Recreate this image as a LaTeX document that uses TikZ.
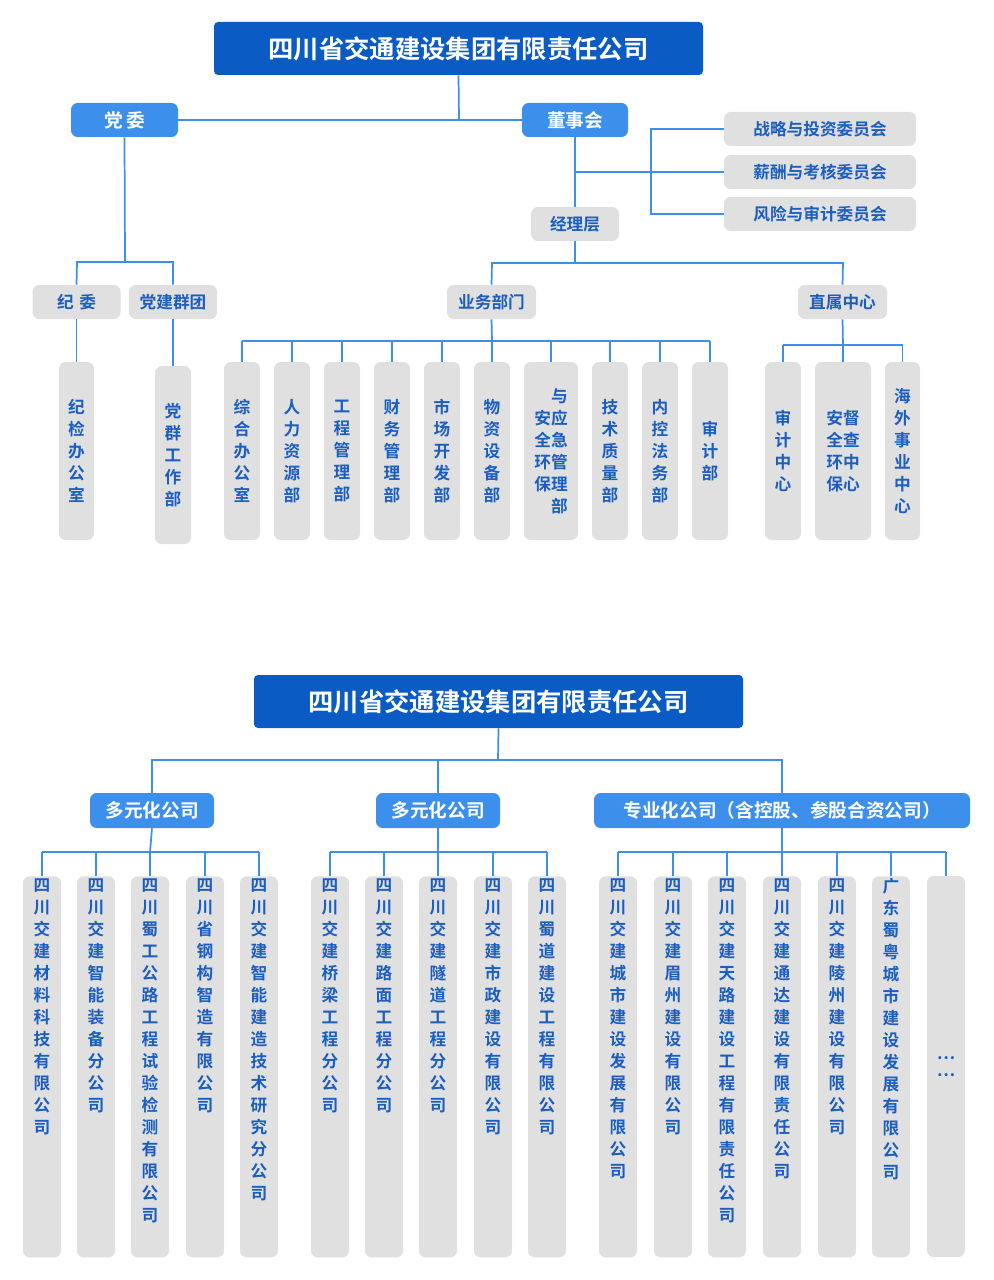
\documentclass[tikz,border=0pt]{standalone}
\usepackage{fontspec}
\setmainfont{Noto Sans CJK SC}[BoldFont={Noto Sans CJK SC Bold}]
\begin{document}
\definecolor{dk}{HTML}{0A5BC4}
\definecolor{br}{HTML}{3D8FEC}
\definecolor{gr}{HTML}{E0E0E0}
\definecolor{tb}{HTML}{1B5EC0}
\begin{tikzpicture}[x=0.75pt,y=-0.75pt,
  ln/.style={draw=br,line width=1.3pt},
  title/.style={fill=dk,rounded corners=3pt,text=white,font=\fontsize{19}{22}\selectfont\bfseries,inner sep=0},
  bb/.style={fill=br,rounded corners=5pt,text=white,font=\fontsize{14}{16}\selectfont\bfseries,inner sep=0},
  gb/.style={fill=gr,rounded corners=5pt,text=tb,font=\fontsize{12.5}{15}\selectfont\bfseries,inner sep=0},
  vb/.style={fill=gr,rounded corners=5pt,text=tb,font=\fontsize{12.5}{16.5}\selectfont\bfseries,inner sep=0,align=center},
  vt/.style={text=tb,font=\fontsize{12.5}{16.5}\selectfont\bfseries,inner sep=0,align=center}]
\useasboundingbox (0,0) rectangle (993,1280);
% ---------- top ----------
\node[title,minimum width=489*0.75pt,minimum height=53*0.75pt] (t1) at (458.5,48.5) {四川省交通建设集团有限责任公司};
\node[bb,minimum width=107*0.75pt,minimum height=34*0.75pt] (dw) at (124.5,120) {党\,委};
\node[bb,minimum width=106*0.75pt,minimum height=34*0.75pt] (ds) at (575,120) {董事会};
\foreach \n/\y/\t in {c1/129/战略与投资委员会,c2/172/薪酬与考核委员会,c3/214/风险与审计委员会}
  \node[gb,minimum width=192*0.75pt,minimum height=34*0.75pt] (\n) at (820,\y) {\t};
\node[gb,minimum width=88*0.75pt,minimum height=34*0.75pt] (jl) at (575,224) {经理层};
\node[gb,minimum width=88*0.75pt,minimum height=34*0.75pt] (jw) at (76.5,302) {纪\,\,委};
\node[gb,minimum width=88*0.75pt,minimum height=34*0.75pt] (dj) at (173,302) {党建群团};
\node[gb,minimum width=89*0.75pt,minimum height=34*0.75pt] (yw) at (491.5,302) {业务部门};
\node[gb,minimum width=89*0.75pt,minimum height=34*0.75pt] (zs) at (842.5,302) {直属中心};
\node[vb,minimum width=35*0.75pt,minimum height=178*0.75pt] (jj) at (76.5,451) {纪\\检\\办\\公\\室};
\node[vb,minimum width=36*0.75pt,minimum height=178*0.75pt] (dq) at (173,455) {党\\群\\工\\作\\部};
\foreach \n/\x/\t in {d1/242/综\\合\\办\\公\\室,d2/292/人\\力\\资\\源\\部,d3/342/工\\程\\管\\理\\部,d4/392/财\\务\\管\\理\\部,d5/442/市\\场\\开\\发\\部,d6/492/物\\资\\设\\备\\部,d8/610/技\\术\\质\\量\\部,d9/660/内\\控\\法\\务\\部,d10/710/审\\计\\部}
  \node[vb,minimum width=36*0.75pt,minimum height=178*0.75pt] (\n) at (\x,451) {\t};
\node[vb,align=right,minimum width=54*0.75pt,minimum height=178*0.75pt] (d7) at (551,451) {与\\安应\\全急\\环管\\保理\\部};
\node[vb,minimum width=36*0.75pt,minimum height=178*0.75pt] (z1) at (783,451) {审\\计\\中\\心};
\node[vb,minimum width=56*0.75pt,minimum height=178*0.75pt] (z2) at (843,451) {安督\\全查\\环中\\保心};
\node[vb,minimum width=35*0.75pt,minimum height=178*0.75pt] (z3) at (902.5,451) {海\\外\\事\\业\\中\\心};
% connectors top
\draw[ln] (t1.south) -- (459,120);
\draw[ln] (dw.east) -- (ds.west);
\draw[ln] (ds.south) -- (jl.north);
\draw[ln] (575,172) -- (c2.west);
\draw[ln] (c1.west) -- (651,129) -- (651,214) -- (c3.west);
\draw[ln] (jl.south) -- (575,263);
\draw[ln] (yw.north) -- (492,263) -- (843,263) -- (zs.north);
\draw[ln] (dw.south) -- (125,262);
\draw[ln] (jw.north) -- (77,262) -- (173,262) -- (dj.north);
\draw[ln] (jw.south) -- (jj.north);
\draw[ln] (dj.south) -- (dq.north);
\draw[ln] (yw.south) -- (492,341);
\draw[ln] (242,341) -- (710,341);
\foreach \n in {d1,d2,d3,d4,d5,d6,d7,d8,d9,d10} \draw[ln] (\n.north) -- (\n.north|-0,341);
\draw[ln] (zs.south) -- (843,345);
\draw[ln] (783,345) -- (903,345);
\foreach \n in {z1,z2,z3} \draw[ln] (\n.north) -- (\n.north|-0,345);
% ---------- bottom ----------
\node[title,minimum width=489*0.75pt,minimum height=53*0.75pt] (t2) at (498.5,701.5) {四川省交通建设集团有限责任公司};
\node[bb,minimum width=124*0.75pt,minimum height=35*0.75pt] (g1) at (152,810.5) {多元化公司};
\node[bb,minimum width=124*0.75pt,minimum height=35*0.75pt] (g2) at (438,810.5) {多元化公司};
\node[bb,minimum width=376*0.75pt,minimum height=35*0.75pt] (g3) at (782,810.5) {专业化公司（含控股、参股合资公司）};
\draw[ln] (t2.south) -- (498,760);
\draw[ln] (g1.north) -- (152,760) -- (782,760) -- (g3.north);
\draw[ln] (g2.north) -- (438,760);
\foreach \n/\x/\t in {
 a1/42/四\\川\\交\\建\\材\\料\\科\\技\\有\\限\\公\\司,
 a2/96/四\\川\\交\\建\\智\\能\\装\\备\\分\\公\\司,
 a3/150/四\\川\\蜀\\工\\公\\路\\工\\程\\试\\验\\检\\测\\有\\限\\公\\司,
 a4/205/四\\川\\省\\钢\\构\\智\\造\\有\\限\\公\\司,
 a5/259/四\\川\\交\\建\\智\\能\\建\\造\\技\\术\\研\\究\\分\\公\\司,
 b1/330/四\\川\\交\\建\\桥\\梁\\工\\程\\分\\公\\司,
 b2/384/四\\川\\交\\建\\路\\面\\工\\程\\分\\公\\司,
 b3/438/四\\川\\交\\建\\隧\\道\\工\\程\\分\\公\\司,
 b4/493/四\\川\\交\\建\\市\\政\\建\\设\\有\\限\\公\\司,
 b5/547/四\\川\\蜀\\道\\建\\设\\工\\程\\有\\限\\公\\司,
 e1/618/四\\川\\交\\建\\城\\市\\建\\设\\发\\展\\有\\限\\公\\司,
 e2/673/四\\川\\交\\建\\眉\\州\\建\\设\\有\\限\\公\\司,
 e3/727/四\\川\\交\\建\\天\\路\\建\\设\\工\\程\\有\\限\\责\\任\\公\\司,
 e4/782/四\\川\\交\\建\\通\\达\\建\\设\\有\\限\\责\\任\\公\\司,
 e5/837/四\\川\\交\\建\\陵\\州\\建\\设\\有\\限\\公\\司,
 e6/891/广\\东\\蜀\\粤\\城\\市\\建\\设\\发\\展\\有\\限\\公\\司}
 {\node[vb,anchor=north,minimum width=38*0.75pt,minimum height=381*0.75pt] (\n) at (\x,876) {};
  \node[vt,anchor=north] (\n t) at (\x,878) {\t};}
\node[vb,minimum width=38*0.75pt,minimum height=381*0.75pt] (e7) at (946,1066.5) {…\\[-4pt]…};
\draw[ln] (g1.south) -- (150,852); \draw[ln] (42,852) -- (259,852);
\draw[ln] (g2.south) -- (438,852); \draw[ln] (330,852) -- (547,852);
\draw[ln] (g3.south) -- (782,852); \draw[ln] (618,852) -- (946,852);
\foreach \n in {a1,a2,a3,a4,a5} \draw[ln] (\n.north) -- (\n.north|-0,852);
\foreach \n in {b1,b2,b3,b4,b5} \draw[ln] (\n.north) -- (\n.north|-0,852);
\foreach \n in {e1,e2,e3,e4,e5,e6,e7} \draw[ln] (\n.north) -- (\n.north|-0,852);
\end{tikzpicture}
\end{document}
